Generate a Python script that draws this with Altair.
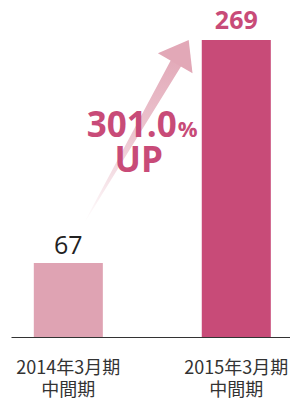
import altair as alt
import pandas as pd

# --- data ---
periods = ["2014年3月期 中間期", "2015年3月期 中間期"]
values = [67, 269]
bar_colors = ["#DFA3B3", "#C84B78"]
label_colors = ["#222222", "#C84B78"]

growth_text = ["301.0", "%", "UP"]
# annotation anchors: x in "bar index" units (0 = first bar, 1 = second), y in value units
growth_x = [0.646, 0.652, 0.42]
growth_y = [181, 181, 149.5]

arrow_x = [0.098, 0.646]
arrow_y = [104, 249]
arrow_end = [0, 1]
head_x = [0.658]
head_y = [253.4]

bars_df = pd.DataFrame({"period": periods, "value": values})
growth_df = pd.DataFrame({"text": growth_text, "x": growth_x, "y": growth_y})
arrow_df = pd.DataFrame({"x": arrow_x, "y": arrow_y, "end": arrow_end})
head_df = pd.DataFrame({"x": head_x, "y": head_y})

Y = alt.Scale(domain=[0, 298], nice=False, zero=True)
XQ = alt.Scale(domain=[-0.341, 1.321], nice=False, zero=False)

xb = alt.X(
    "period:N",
    sort=periods,
    scale=alt.Scale(paddingInner=0.589, paddingOuter=0.125, align=0.543),
    axis=alt.Axis(
        title=None,
        labelAngle=0,
        ticks=False,
        domainColor="#333333",
        domainWidth=1,
        labelFont="Noto Sans CJK JP",
        labelFontSize=18,
        labelLineHeight=22,
        labelColor="#333333",
        labelPadding=22,
        labelExpr="split(datum.label, ' ')",
    ),
)

bars = alt.Chart(bars_df).mark_bar().encode(
    x=xb,
    y=alt.Y("value:Q", scale=Y, axis=None),
    color=alt.Color("period:N", scale=alt.Scale(domain=periods, range=bar_colors), legend=None),
)

lab67 = alt.Chart(bars_df).transform_filter(alt.datum.value == values[0]).mark_text(
    font="Open Sans", fontSize=25, fontWeight="normal", color=label_colors[0], dy=-9, baseline="alphabetic"
).encode(x=xb, y=alt.Y("value:Q", scale=Y), text="value:Q")

lab269 = alt.Chart(bars_df).transform_filter(alt.datum.value == values[1]).mark_text(
    font="Open Sans", fontSize=25, fontWeight="bold", color=label_colors[1], dy=-11, baseline="alphabetic"
).encode(x=xb, y=alt.Y("value:Q", scale=Y), text="value:Q")

shaft = alt.Chart(arrow_df).mark_trail(
    color=alt.Gradient(
        gradient="linear",
        stops=[
            alt.GradientStop(color="#FFFFFF", offset=0),
            alt.GradientStop(color="#EDC7D1", offset=0.5),
            alt.GradientStop(color="#E2A9B8", offset=1),
        ],
        x1=0, y1=1, x2=0, y2=0,
    )
).encode(
    x=alt.X("x:Q", scale=XQ, axis=None),
    y=alt.Y("y:Q", scale=Y, axis=None),
    size=alt.Size("end:Q", scale=alt.Scale(domain=[0, 1], range=[0.5, 12]), legend=None),
    order="end:Q",
)

head = alt.Chart(head_df).mark_point(
    shape="M0,-1L1,0.35L-1,0.35Z",
    size=1600,
    angle=30,
    filled=True,
    fill="#E2A8B7",
    opacity=1,
    strokeWidth=0,
).encode(
    x=alt.X("x:Q", scale=XQ, axis=None),
    y=alt.Y("y:Q", scale=Y, axis=None),
)

g_main = alt.Chart(growth_df).transform_filter(alt.datum.text == growth_text[0]).mark_text(
    font="Open Sans", fontSize=35, fontWeight="bold", color="#C84B78", align="right", baseline="alphabetic"
).encode(x=alt.X("x:Q", scale=XQ, axis=None), y=alt.Y("y:Q", scale=Y), text="text:N")

g_pct = alt.Chart(growth_df).transform_filter(alt.datum.text == growth_text[1]).mark_text(
    font="Open Sans", fontSize=22, fontWeight="bold", color="#C84B78", align="left", baseline="alphabetic"
).encode(x=alt.X("x:Q", scale=XQ, axis=None), y=alt.Y("y:Q", scale=Y), text="text:N")

g_up = alt.Chart(growth_df).transform_filter(alt.datum.text == growth_text[2]).mark_text(
    font="Open Sans", fontSize=35, fontWeight="bold", color="#C84B78", align="center", baseline="alphabetic"
).encode(x=alt.X("x:Q", scale=XQ, axis=None), y=alt.Y("y:Q", scale=Y), text="text:N")

base = alt.layer(bars, lab67, lab269)
deco = alt.layer(shaft, head, g_main, g_pct, g_up)

chart = (
    alt.layer(base, deco)
    .resolve_scale(x="independent")
    .properties(
        width=279,
        height=329,
        autosize=alt.AutoSizeParams(type="none"),
        padding={"left": 3, "top": 0, "right": 0, "bottom": 61},
    )
    .configure_view(strokeWidth=0)
)

chart.save("out.html", embed_options={"renderer": "svg", "actions": False})
